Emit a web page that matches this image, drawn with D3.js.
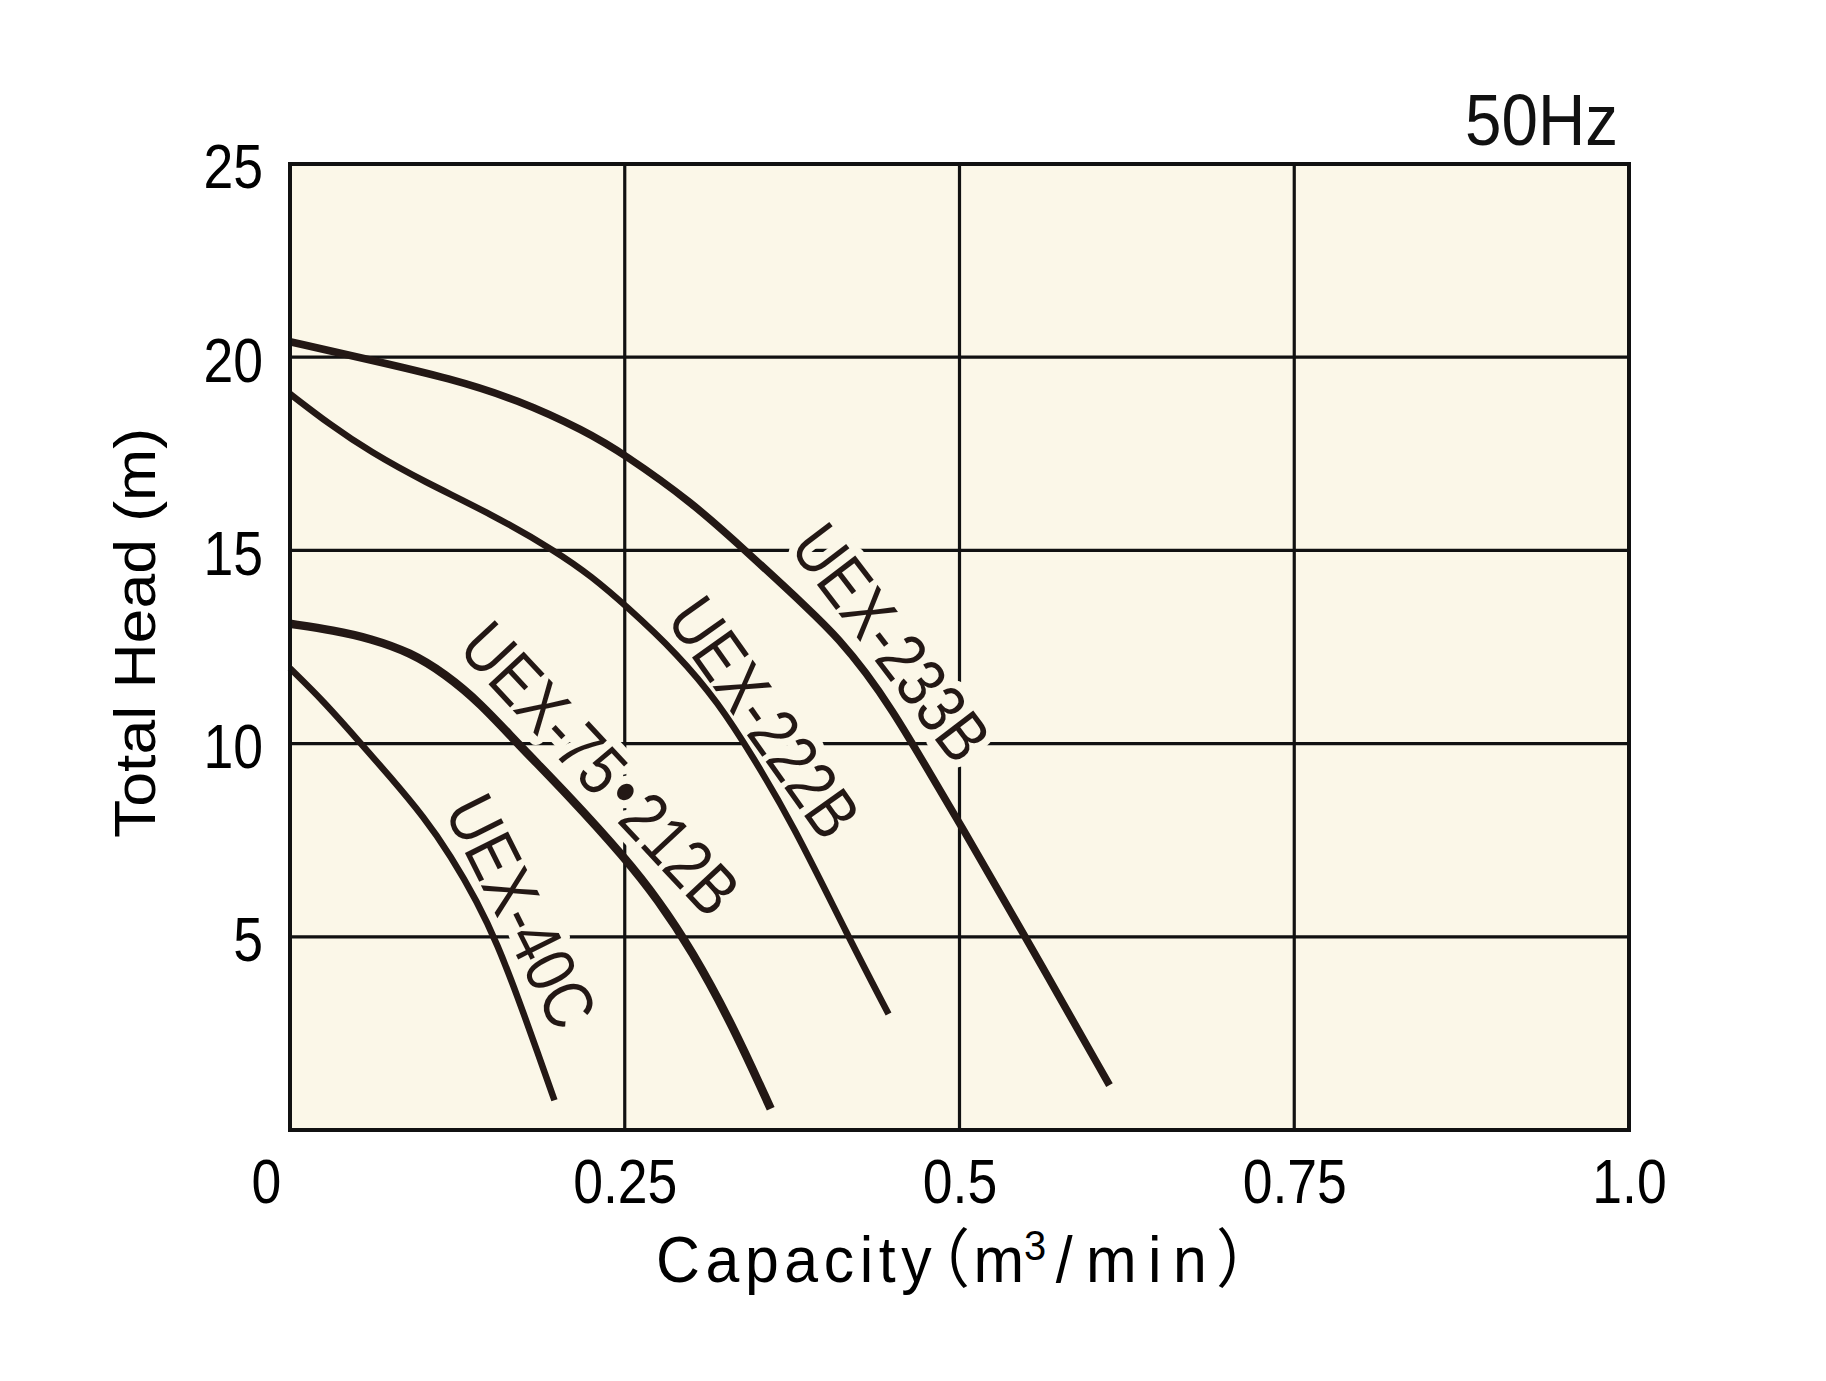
<!DOCTYPE html>
<html><head><meta charset="utf-8">
<script src="https://cdn.jsdelivr.net/npm/d3@7"></script>
<style>html,body{margin:0;padding:0;background:#fff;}</style>
</head><body>
<svg id="chart" width="1826" height="1381"></svg>
<script>
// ---- data ----
const xTicks = [0, 0.25, 0.5, 0.75, 1.0];
const xTickLabels = ["0", "0.25", "0.5", "0.75", "1.0"];
const yTicks = [5, 10, 15, 20, 25];
const yTickLabels = ["5", "10", "15", "20", "25"];

const seriesNames = ["UEX-233B", "UEX-222B", "UEX-75・212B", "UEX-40C"];

const uex233bQ = [0, 0.06, 0.12, 0.17, 0.22, 0.25, 0.3, 0.34, 0.39, 0.41, 0.43, 0.45, 0.47, 0.5, 0.55, 0.612];
const uex233bH = [20.4, 19.93, 19.45, 18.9, 18.1, 17.48, 16.25, 15.0, 13.4, 12.7, 11.85, 10.85, 9.7, 7.95, 4.95, 1.16];

const uex222bQ = [0, 0.03, 0.06, 0.1, 0.15, 0.2, 0.225, 0.25, 0.29, 0.32, 0.345, 0.375, 0.417, 0.447];
const uex222bH = [19.05, 18.25, 17.55, 16.78, 15.95, 14.95, 14.33, 13.6, 12.3, 11.05, 9.7, 7.95, 5.0, 3.0];

const uex75Q = [0, 0.033, 0.06, 0.09, 0.116, 0.142, 0.17, 0.209, 0.25, 0.275, 0.3, 0.33, 0.359];
const uex75H = [13.1, 12.93, 12.72, 12.36, 11.8, 11.05, 10.0, 8.62, 7.05, 5.95, 4.65, 2.75, 0.55];

const uex40cQ = [0, 0.025, 0.05, 0.075, 0.1, 0.12, 0.14, 0.155, 0.17, 0.185, 0.1975];
const uex40cH = [11.95, 11.1, 10.12, 9.13, 8.1, 7.1, 5.9, 4.8, 3.45, 2.0, 0.77];

// label anchor points in data units
const labelQ = [0.4496, 0.3547, 0.2323, 0.1733];
const labelH = [12.63, 10.69, 9.37, 5.67];

// ---- layout / style ----
const W = 1826, H = 1381;
const plot = {left: 290, right: 1629, top: 164, bottom: 1130};
const ink = "#231815", paper = "#FBF7E8";
const labelAngle = [52.7, 54.7, 47, 63.4];
const labelLen = [276, 275, 370, 250];
const lineWidth = [7.5, 6.5, 8.5, 6.5];
const fontMain = "'Liberation Sans', Arial, Helvetica, sans-serif";
const fontCJK = "'Noto Sans CJK JP', sans-serif";

const svg = d3.select("#chart");
svg.append("rect").attr("width", W).attr("height", H).attr("fill", "#fff");

const x = d3.scaleLinear().domain([0, 1]).range([plot.left, plot.right]);
const y = d3.scaleLinear().domain([0, 25]).range([plot.bottom, plot.top]);

// background
svg.append("rect").attr("x", x(0)).attr("y", y(25))
  .attr("width", x(1) - x(0)).attr("height", y(0) - y(25)).attr("fill", paper);

// grid
const grid = svg.append("g");
grid.selectAll("line.v").data(xTicks.slice(1, -1)).join("line")
  .attr("x1", d => x(d)).attr("x2", d => x(d)).attr("y1", y(0)).attr("y2", y(25))
  .attr("stroke", "#111").attr("stroke-width", 3.2);
grid.selectAll("line.h").data(yTicks.slice(0, -1)).join("line")
  .attr("x1", x(0)).attr("x2", x(1)).attr("y1", d => y(d)).attr("y2", d => y(d))
  .attr("stroke", "#111").attr("stroke-width", 3.2);

const series = [
  uex233bQ.map((q, i) => [q, uex233bH[i]]),
  uex222bQ.map((q, i) => [q, uex222bH[i]]),
  uex75Q.map((q, i) => [q, uex75H[i]]),
  uex40cQ.map((q, i) => [q, uex40cH[i]])
];

// curve labels (halo breaks grid)
const labels = svg.append("g").selectAll("text").data(seriesNames).join("text")
  .attr("transform", (d, i) => `translate(${x(labelQ[i])},${y(labelH[i])}) rotate(${labelAngle[i]})`)
  .attr("text-anchor", "middle").attr("dy", "0.36em")
  .attr("textLength", (d, i) => labelLen[i]).attr("lengthAdjust", "spacingAndGlyphs")
  .style("font-family", fontMain).style("font-size", "70px")
  .attr("fill", ink).attr("stroke", paper).attr("stroke-width", 18)
  .attr("stroke-linejoin", "round").attr("paint-order", "stroke");
labels.each(function (d) {
  const t = d3.select(this);
  const parts = d.split("・");
  if (parts.length === 1) { t.text(d); return; }
  t.append("tspan").text(parts[0]);
  t.append("tspan").style("font-family", fontCJK).style("font-weight", "700")
    .style("font-feature-settings", "'palt' 1").text("・");
  t.append("tspan").text(parts[1]);
});

// curves
const line = d3.line().x(d => x(d[0])).y(d => y(d[1])).curve(d3.curveBasis);
svg.append("g").selectAll("path").data(series).join("path")
  .attr("d", line).attr("fill", "none").attr("stroke", ink)
  .attr("stroke-width", (d, i) => lineWidth[i]).attr("stroke-linecap", "butt").attr("stroke-linejoin", "round");

// border
svg.append("rect").attr("x", x(0)).attr("y", y(25))
  .attr("width", x(1) - x(0)).attr("height", y(0) - y(25))
  .attr("fill", "none").attr("stroke", "#111").attr("stroke-width", 4);

function narrow(sel, k) {
  sel.each(function () {
    const w = this.getComputedTextLength();
    d3.select(this).attr("textLength", w * k).attr("lengthAdjust", "spacingAndGlyphs");
  });
}

// y axis
const yAxis = d3.axisLeft(y).tickValues(yTicks).tickFormat((d, i) => yTickLabels[i]).tickSize(0).tickPadding(27);
const yg = svg.append("g").attr("transform", `translate(${x(0)},0)`).call(yAxis);
yg.select(".domain").remove();
yg.selectAll("text").attr("dy", "0.38em").attr("fill", "#000")
  .style("font-family", fontMain).style("font-size", "63px");
narrow(yg.selectAll("text"), 0.85);

// x axis
const xAxis = d3.axisBottom(x).tickValues(xTicks).tickFormat((d, i) => xTickLabels[i]).tickSize(0).tickPadding(73);
const xg = svg.append("g").attr("transform", `translate(0,${y(0)})`).call(xAxis);
xg.select(".domain").remove();
xg.selectAll("text").attr("dy", "0").attr("fill", "#000")
  .style("font-family", fontMain).style("font-size", "63px");
xg.selectAll("text").filter((d, i) => i === 0).attr("dx", -24);
narrow(xg.selectAll("text"), 0.85);

// axis titles
const xt = svg.append("text").attr("transform", "translate(656,1282) scale(0.95,1)")
  .attr("fill", "#000").style("font-family", fontMain).style("font-size", "64px");
xt.append("tspan").style("letter-spacing", "5.9px").text("Capacity");
xt.append("tspan").style("font-family", fontCJK).style("font-feature-settings", "'palt' 1")
  .style("letter-spacing", "6px").text("（");
xt.append("tspan").text("m");
xt.append("tspan").attr("dy", -22).style("font-size", "42px").style("letter-spacing", "10px").text("3");
xt.append("tspan").attr("dy", 22).style("letter-spacing", "14px").text("/");
xt.append("tspan").style("letter-spacing", "12px").text("min");
xt.append("tspan").style("font-family", fontCJK).style("font-feature-settings", "'palt' 1").text("）");

svg.append("text").attr("transform", `translate(155,633) rotate(-90)`)
  .attr("text-anchor", "middle").attr("fill", "#000")
  .style("font-family", fontMain).style("font-size", "58px")
  .attr("textLength", 410).attr("lengthAdjust", "spacingAndGlyphs")
  .text("Total Head (m)");

svg.append("text").attr("x", 1618).attr("y", 145).attr("text-anchor", "end").attr("fill", "#111")
  .style("font-family", fontMain).style("font-size", "72px")
  .attr("textLength", 153).attr("lengthAdjust", "spacingAndGlyphs")
  .text("50Hz");
</script>
</body></html>
